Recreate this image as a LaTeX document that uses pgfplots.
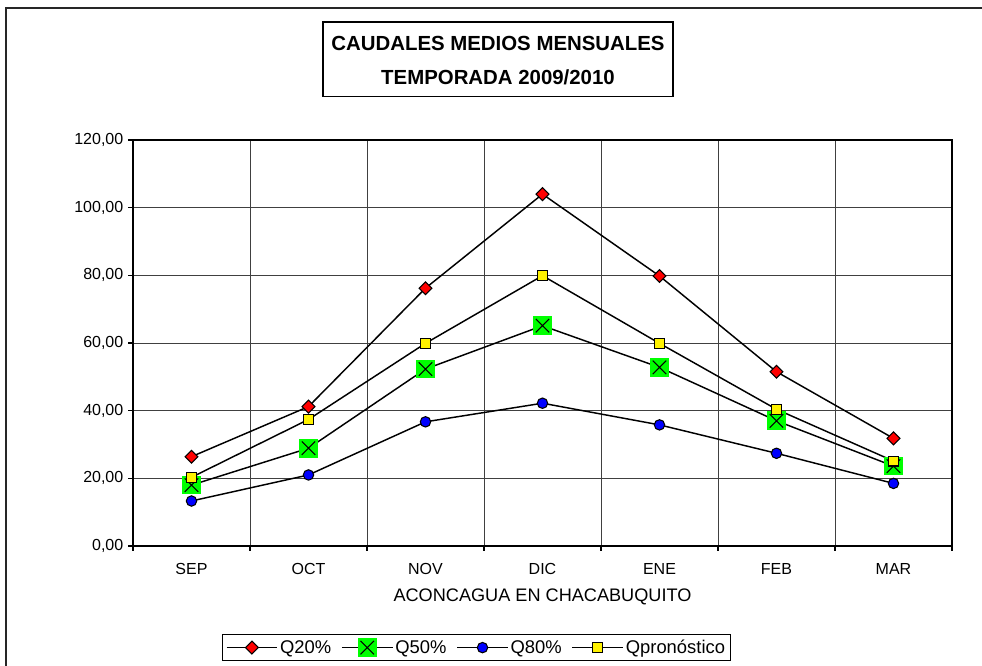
\documentclass[border=0pt]{standalone}
\usepackage{fontspec}
\setmainfont{Liberation Sans}
\usepackage{pgfplots}
\pgfplotsset{compat=1.18}

% green square with a black cross on it (Q50% marker)
\pgfdeclareplotmark{grx}{%
  \pgfpathrectangle{\pgfpoint{-\pgfplotmarksize}{-\pgfplotmarksize}}{\pgfpoint{2\pgfplotmarksize}{2\pgfplotmarksize}}%
  \pgfusepath{fill}%
  \pgfpathmoveto{\pgfpoint{-0.72\pgfplotmarksize}{-0.72\pgfplotmarksize}}%
  \pgfpathlineto{\pgfpoint{0.72\pgfplotmarksize}{0.72\pgfplotmarksize}}%
  \pgfpathmoveto{\pgfpoint{-0.72\pgfplotmarksize}{0.72\pgfplotmarksize}}%
  \pgfpathlineto{\pgfpoint{0.72\pgfplotmarksize}{-0.72\pgfplotmarksize}}%
  \pgfusepath{stroke}}

\begin{document}
\begin{tikzpicture}
  % 1 px of the reference = 0.75pt
  \useasboundingbox (0pt,0pt) rectangle (736.5pt,499.5pt);
  \draw[line width=1.2pt, black!85] (4.5pt,-8pt) -- (4.5pt,493.5pt) -- (745pt,493.5pt);
  \draw[line width=0.8pt] (242.25pt,427pt) rectangle (504.75pt,483pt);
  \node[align=center, inner sep=0pt,
        font=\bfseries\fontsize{15.3}{26}\selectfont] at (373.5pt,454pt)
        {CAUDALES MEDIOS MENSUALES\\TEMPORADA 2009/2010};

  \begin{axis}[
      at={(99.75pt,90pt)}, anchor=south west,
      scale only axis, width=614.25pt, height=304.5pt,
      xmin=-0.5, xmax=6.5, ymin=0, ymax=120,
      xtick={0,...,6},
      xticklabels={SEP,OCT,NOV,DIC,ENE,FEB,MAR},
      minor xtick={-0.5,0.5,...,6.5},
      xminorgrids=true,
      major x tick style={draw=none},
      ytick={0,20,...,120},
      ymajorgrids=true,
      tick pos=left, tick align=outside,
      major tick length=3.75pt, minor tick length=3.75pt,
      grid style={black!75, line width=0.6pt},
      minor grid style={black!75, line width=0.6pt},
      axis line style={black, line width=0.8pt},
      tick style={black, line width=0.8pt},
      ticklabel style={font=\fontsize{12}{14}\selectfont},
      xticklabel shift=5.5pt,
      y tick label style={/pgf/number format/.cd, fixed, fixed zerofill,
        precision=2, use comma},
      /pgf/number format/assume math mode=true,
      xlabel={ACONCAGUA EN CHACABUQUITO},
      xlabel style={at={(axis description cs:0.5,-0.126)}, anchor=center,
        font=\fontsize{13.6}{15}\selectfont},
      legend columns=4,
      legend image code/.code={
        \draw[mark repeat=2, mark phase=2]
          plot coordinates {(0pt,0pt) (19pt,0pt) (38pt,0pt)};},
      legend style={at={(0.1087,-0.2167)}, anchor=north west,
        draw=black, line width=0.8pt, inner sep=2.5pt,
        font=\fontsize{13.8}{16}\selectfont,
        nodes={inner sep=1.5pt},
        /tikz/every even column/.append style={column sep=6pt}},
    ]
    \addplot[black, line width=1.1pt, mark=square*, mark size=3.4pt,
      mark options={rotate=45, fill=red, draw=black, line width=0.8pt}]
      coordinates {(0,26.4) (1,41.2) (2,76.2) (3,104.0) (4,79.8) (5,51.5) (6,31.8)};
    \addlegendentry{Q20\%}
    \addplot[black, line width=1.1pt, mark=grx, mark size=7pt,
      mark options={fill=green, draw=black, line width=0.8pt}]
      coordinates {(0,18.0) (1,28.9) (2,52.3) (3,65.1) (4,52.8) (5,37.0) (6,23.6)};
    \addlegendentry{Q50\%}
    \addplot[black, line width=1.1pt, mark=*, mark size=3.9pt,
      mark options={fill=blue, draw=black, line width=0.8pt}]
      coordinates {(0,13.3) (1,21.0) (2,36.7) (3,42.2) (4,35.8) (5,27.4) (6,18.5)};
    \addlegendentry{Q80\%}
    \addplot[black, line width=1.1pt, mark=square*, mark size=3.7pt,
      mark options={fill=yellow, draw=black, line width=0.8pt}]
      coordinates {(0,20.3) (1,37.4) (2,59.9) (3,79.9) (4,59.9) (5,40.4) (6,25.1)};
    \addlegendentry{Qpronóstico}
  \end{axis}
\end{tikzpicture}
\end{document}
